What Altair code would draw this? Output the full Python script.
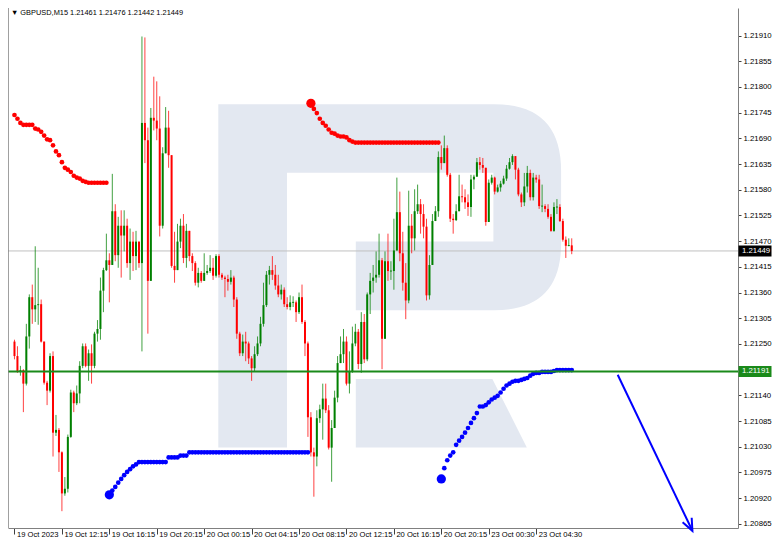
import math
import altair as alt
import pandas as pd

# ---------------- data ----------------
header = "\u25bc GBPUSD,M15  1.21461 1.21476 1.21442 1.21449"
first_open = 1.21255

closes = [
    1.21224, 1.21192, 1.21194, 1.21165, 1.21266, 1.21350, 1.21324, 1.21333, 1.21335, 1.21255,
    1.21167, 1.21150, 1.21224, 1.21060, 1.21066, 1.21018, 1.20930, 1.20940, 1.21051, 1.21146,
    1.21123, 1.21144, 1.21203, 1.21245, 1.21203, 1.21230, 1.21203, 1.21272, 1.21282, 1.21364,
    1.21408, 1.21429, 1.21419, 1.21534, 1.21440, 1.21503, 1.21482, 1.21503, 1.21423, 1.21469,
    1.21438, 1.21469, 1.21423, 1.21723, 1.21686, 1.21385, 1.21734, 1.21728, 1.21711, 1.21503,
    1.21658, 1.21713, 1.21654, 1.21417, 1.21408, 1.21469, 1.21503, 1.21434, 1.21492, 1.21438,
    1.21423, 1.21381, 1.21402, 1.21385, 1.21402, 1.21406, 1.21413, 1.21396, 1.21438, 1.21398,
    1.21392, 1.21389, 1.21383, 1.21392, 1.21345, 1.21272, 1.21230, 1.21255, 1.21251, 1.21219,
    1.21198, 1.21228, 1.21251, 1.21293, 1.21333, 1.21398, 1.21408, 1.21398, 1.21375, 1.21356,
    1.21366, 1.21335, 1.21329, 1.21339, 1.21339, 1.21318, 1.21350, 1.21297, 1.21251, 1.21093,
    1.21018, 1.21009, 1.21091, 1.21110, 1.21133, 1.21108, 1.21028, 1.21070, 1.21135, 1.21209,
    1.21228, 1.21255, 1.21165, 1.21192, 1.21251, 1.21276, 1.21207, 1.21297, 1.21217, 1.21356,
    1.21385, 1.21392, 1.21398, 1.21429, 1.21261, 1.21427, 1.21406, 1.21406, 1.21450, 1.21532,
    1.21444, 1.21381, 1.21343, 1.21503, 1.21476, 1.21534, 1.21549, 1.21528, 1.21501, 1.21354,
    1.21419, 1.21513, 1.21534, 1.21650, 1.21637, 1.21669, 1.21612, 1.21518, 1.21515, 1.21534,
    1.21566, 1.21564, 1.21553, 1.21543, 1.21602, 1.21608, 1.21639, 1.21633, 1.21627, 1.21511,
    1.21595, 1.21606, 1.21576, 1.21585, 1.21593, 1.21604, 1.21625, 1.21639, 1.21652, 1.21623,
    1.21570, 1.21553, 1.21587, 1.21616, 1.21564, 1.21606, 1.21602, 1.21545, 1.21545, 1.21539,
    1.21522, 1.21492, 1.21543, 1.21543, 1.21513, 1.21473, 1.21460, 1.21461, 1.21449,
]

highs = [
    1.21259, 1.21245, 1.21203, 1.21196, 1.21293, 1.21356, 1.21377, 1.21459, 1.21413, 1.21345,
    1.21255, 1.21171, 1.21230, 1.21234, 1.21098, 1.21070, 1.21020, 1.20965, 1.21056, 1.21152,
    1.21150, 1.21161, 1.21213, 1.21251, 1.21251, 1.21238, 1.21249, 1.21276, 1.21301, 1.21392,
    1.21413, 1.21486, 1.21444, 1.21614, 1.21549, 1.21522, 1.21536, 1.21536, 1.21518, 1.21497,
    1.21490, 1.21492, 1.21465, 1.21908, 1.21906, 1.21713, 1.21755, 1.21822, 1.21812, 1.21780,
    1.21671, 1.21757, 1.21749, 1.21652, 1.21490, 1.21507, 1.21518, 1.21528, 1.21507, 1.21490,
    1.21444, 1.21427, 1.21413, 1.21406, 1.21444, 1.21419, 1.21440, 1.21434, 1.21442, 1.21442,
    1.21402, 1.21396, 1.21398, 1.21408, 1.21396, 1.21350, 1.21276, 1.21270, 1.21276, 1.21255,
    1.21224, 1.21245, 1.21266, 1.21308, 1.21381, 1.21406, 1.21417, 1.21438, 1.21419, 1.21398,
    1.21377, 1.21371, 1.21350, 1.21354, 1.21352, 1.21343, 1.21360, 1.21377, 1.21301, 1.21255,
    1.21104, 1.21028, 1.21108, 1.21120, 1.21165, 1.21165, 1.21119, 1.21087, 1.21150, 1.21224,
    1.21266, 1.21282, 1.21266, 1.21234, 1.21287, 1.21293, 1.21282, 1.21318, 1.21314, 1.21360,
    1.21402, 1.21419, 1.21448, 1.21486, 1.21434, 1.21448, 1.21486, 1.21427, 1.21518, 1.21606,
    1.21576, 1.21490, 1.21423, 1.21578, 1.21528, 1.21581, 1.21591, 1.21560, 1.21549, 1.21518,
    1.21440, 1.21528, 1.21545, 1.21662, 1.21675, 1.21696, 1.21675, 1.21616, 1.21528, 1.21549,
    1.21612, 1.21591, 1.21581, 1.21570, 1.21612, 1.21612, 1.21648, 1.21650, 1.21648, 1.21606,
    1.21602, 1.21612, 1.21608, 1.21591, 1.21599, 1.21610, 1.21633, 1.21648, 1.21656, 1.21652,
    1.21627, 1.21574, 1.21616, 1.21631, 1.21623, 1.21616, 1.21612, 1.21612, 1.21591, 1.21549,
    1.21549, 1.21528, 1.21553, 1.21560, 1.21549, 1.21518, 1.21480, 1.21476, 1.21476,
]

lows = [
    1.21217, 1.21188, 1.21182, 1.21104, 1.21161, 1.21240, 1.21293, 1.21297, 1.21291, 1.21253,
    1.21163, 1.21119, 1.21146, 1.21009, 1.21053, 1.20976, 1.20892, 1.20925, 1.20932, 1.21049,
    1.21104, 1.21119, 1.21123, 1.21198, 1.21200, 1.21171, 1.21165, 1.21198, 1.21255, 1.21259,
    1.21318, 1.21406, 1.21339, 1.21419, 1.21427, 1.21413, 1.21392, 1.21448, 1.21413, 1.21387,
    1.21406, 1.21408, 1.21413, 1.21234, 1.21637, 1.21272, 1.21385, 1.21707, 1.21686, 1.21480,
    1.21497, 1.21658, 1.21627, 1.21413, 1.21381, 1.21413, 1.21455, 1.21423, 1.21413, 1.21427,
    1.21406, 1.21375, 1.21371, 1.21381, 1.21385, 1.21398, 1.21402, 1.21387, 1.21392, 1.21392,
    1.21387, 1.21350, 1.21364, 1.21377, 1.21329, 1.21261, 1.21224, 1.21224, 1.21213, 1.21207,
    1.21171, 1.21192, 1.21224, 1.21245, 1.21287, 1.21329, 1.21377, 1.21387, 1.21366, 1.21350,
    1.21345, 1.21329, 1.21324, 1.21322, 1.21329, 1.21297, 1.21314, 1.21293, 1.21224, 1.21051,
    1.21009, 1.20923, 1.20988, 1.21081, 1.21045, 1.21102, 1.21024, 1.20955, 1.21070, 1.21125,
    1.21213, 1.21209, 1.21161, 1.21144, 1.21188, 1.21245, 1.21196, 1.21188, 1.21209, 1.21213,
    1.21314, 1.21360, 1.21381, 1.21392, 1.21196, 1.21261, 1.21385, 1.21387, 1.21366, 1.21450,
    1.21427, 1.21364, 1.21303, 1.21337, 1.21444, 1.21450, 1.21528, 1.21486, 1.21476, 1.21343,
    1.21345, 1.21419, 1.21513, 1.21522, 1.21623, 1.21637, 1.21608, 1.21511, 1.21486, 1.21513,
    1.21534, 1.21553, 1.21539, 1.21524, 1.21522, 1.21581, 1.21608, 1.21623, 1.21616, 1.21503,
    1.21511, 1.21591, 1.21570, 1.21574, 1.21576, 1.21591, 1.21599, 1.21623, 1.21633, 1.21602,
    1.21566, 1.21543, 1.21545, 1.21574, 1.21557, 1.21557, 1.21595, 1.21539, 1.21532, 1.21532,
    1.21518, 1.21490, 1.21490, 1.21528, 1.21511, 1.21469, 1.21434, 1.21459, 1.21442,
]

# dotted trailing indicator (bar index where each run starts)
red_dots_1_start = 0
red_dots_1 = [
    1.21740, 1.21732, 1.21723, 1.21719, 1.21719, 1.21719, 1.21719, 1.21711, 1.21709, 1.21704,
    1.21696, 1.21688, 1.21686, 1.21675, 1.21662, 1.21654, 1.21639, 1.21627, 1.21623, 1.21618,
    1.21610, 1.21606, 1.21604, 1.21599, 1.21597, 1.21595, 1.21595, 1.21595, 1.21595, 1.21595,
    1.21595, 1.21595,
]
blue_dots_1_start = 32
blue_dots_1 = [
    1.20927, 1.20936, 1.20944, 1.20953, 1.20961, 1.20969, 1.20976, 1.20982, 1.20988, 1.20992,
    1.20997, 1.20997, 1.20997, 1.20997, 1.20997, 1.20997, 1.20997, 1.20997, 1.20997, 1.20997,
    1.21007, 1.21007, 1.21007, 1.21007, 1.21011, 1.21011, 1.21011, 1.21018, 1.21018, 1.21018,
    1.21018, 1.21018, 1.21018, 1.21018, 1.21018, 1.21018, 1.21018, 1.21018, 1.21018, 1.21018,
    1.21018, 1.21018, 1.21018, 1.21018, 1.21018, 1.21018, 1.21018, 1.21018, 1.21018, 1.21018,
    1.21018, 1.21018, 1.21018, 1.21018, 1.21018, 1.21018, 1.21018, 1.21018, 1.21018, 1.21018,
    1.21018, 1.21018, 1.21018, 1.21018, 1.21018, 1.21018, 1.21018, 1.21018,
]
red_dots_2_start = 100
red_dots_2 = [
    1.21765, 1.21753, 1.21744, 1.21732, 1.21723, 1.21717, 1.21709, 1.21702, 1.21700, 1.21696,
    1.21694, 1.21694, 1.21692, 1.21686, 1.21683, 1.21681, 1.21681, 1.21681, 1.21681, 1.21681,
    1.21681, 1.21681, 1.21681, 1.21681, 1.21681, 1.21681, 1.21681, 1.21681, 1.21681, 1.21681,
    1.21681, 1.21681, 1.21681, 1.21681, 1.21681, 1.21681, 1.21681, 1.21681, 1.21681, 1.21681,
    1.21681, 1.21681, 1.21681, 1.21681,
]
blue_dots_2_start = 144
blue_dots_2 = [
    1.20961, 1.20984, 1.21001, 1.21011, 1.21018, 1.21034, 1.21043, 1.21051, 1.21060, 1.21070,
    1.21081, 1.21091, 1.21102, 1.21116, 1.21116, 1.21119, 1.21125, 1.21131, 1.21135, 1.21139,
    1.21146, 1.21154, 1.21161, 1.21165, 1.21169, 1.21171, 1.21171, 1.21173, 1.21175, 1.21177,
    1.21182, 1.21186, 1.21188, 1.21188, 1.21190, 1.21190, 1.21190, 1.21190, 1.21192, 1.21194,
    1.21194, 1.21194, 1.21194, 1.21194, 1.21194,
]

price_ticks = [
    1.21910, 1.21855, 1.21800, 1.21745, 1.21690, 1.21635, 1.21580, 1.21525, 1.21470, 1.21415,
    1.21360, 1.21305, 1.21250, 1.21140, 1.21085, 1.21030, 1.20975, 1.20920, 1.20865,
]
time_labels = [
    "19 Oct 2023", "19 Oct 12:15", "19 Oct 16:15", "19 Oct 20:15", "20 Oct 00:15",
    "20 Oct 04:15", "20 Oct 08:15", "20 Oct 12:15", "20 Oct 16:15", "20 Oct 20:15",
    "23 Oct 00:30", "23 Oct 04:30",
]
bars_per_label = 16

current_price = 1.21449
level_price = 1.21191
arrow_bars = [203.5, 228.7]
arrow_prices = [1.21184, 1.20850]

# ---------------- layout / styles ----------------
W, H = 730, 520
X_DOMAIN = [-0.5, 242.4]
Y_DOMAIN = [1.20856, 1.21969]
UP, DOWN = "#008000", "#FF0000"
FONT = "Liberation Sans"
SX = W / 743.0   # reference-pixel to plot-pixel factors (decorative logo only)
SY = H / 530.0

xs = alt.Scale(domain=X_DOMAIN, nice=False, zero=False)
ys = alt.Scale(domain=Y_DOMAIN, nice=False, zero=False)

# candles table
opens = [first_open] + closes[:-1]
rows = []
for i, (o, h, l, c) in enumerate(zip(opens, highs, lows, closes)):
    h = max(h, o, c)
    l = min(l, o, c)
    top, bot = max(o, c), min(o, c)
    if top - bot < 0.00002:
        mid = (top + bot) / 2
        top, bot = mid + 0.00001, mid - 0.00001
    rows.append(dict(i=i, o=o, h=h, l=l, c=c, top=top, bot=bot,
                     col=UP if c >= o else DOWN))
cdf = pd.DataFrame(rows)

# dots table
dot_rows = []
for start, series, color in [
    (red_dots_1_start, red_dots_1, "#FF0000"),
    (blue_dots_1_start, blue_dots_1, "#0000FF"),
    (red_dots_2_start, red_dots_2, "#FF0000"),
    (blue_dots_2_start, blue_dots_2, "#0000FF"),
]:
    for k, v in enumerate(series):
        big = (k == 0 and start != 0)
        dot_rows.append(dict(i=start + k, p=v, col=color, sz=85 if big else 22))
ddf = pd.DataFrame(dot_rows)

one = pd.DataFrame({"t": [header]})

label_js = "[" + ",".join("'%s'" % t for t in time_labels) + "]"
xaxis = alt.Axis(
    values=[k * bars_per_label for k in range(len(time_labels))],
    labelExpr=label_js + "[round(datum.value/%d)]" % bars_per_label,
    orient="bottom", grid=False, title=None,
    domainColor="#808080", tickColor="#404040", tickSize=6,
    labelAlign="left", labelBaseline="top", labelPadding=-4, labelOffset=2,
    labelFontSize=7.6, labelFont=FONT, labelColor="#000000",
    labelOverlap=False, labelFlush=False, labelBound=False,
)
yaxis = alt.Axis(
    values=price_ticks, format=".5f", orient="right", grid=False, title=None,
    domainColor="#808080", tickColor="#404040", tickSize=3, labelPadding=2,
    labelFontSize=7.8, labelFont=FONT, labelColor="#000000",
    labelOverlap=False, labelFlush=False, labelBound=False,
)

X = lambda f: alt.X(f, scale=xs, axis=xaxis)
Y = lambda f: alt.Y(f, scale=ys, axis=yaxis)

# watermark logo (decorative background drawn as one path)
def P(x, y):
    return "%.1f,%.1f" % ((x - 2) * SX, y * SY)
LOGO = (
    "M" + P(216, 98) + " L" + P(497, 98) + " Q" + P(565, 98) + " " + P(565, 166)
    + " L" + P(565, 240) + " Q" + P(565, 308) + " " + P(497, 308)
    + " L" + P(356, 308) + " L" + P(356, 238) + " L" + P(496, 238)
    + " L" + P(496, 168) + " L" + P(286, 168) + " L" + P(286, 448)
    + " L" + P(216, 448) + " Z"
    + " M" + P(356, 378) + " L" + P(495, 378) + " L" + P(530, 448)
    + " L" + P(356, 448) + " Z"
)
watermark = alt.Chart(one).mark_point(
    shape=LOGO, size=4, filled=True, color="#E3E8F1", opacity=1, strokeWidth=0
).encode(x=alt.value(0), y=alt.value(0))

price_line = alt.Chart(pd.DataFrame({"p": [current_price]})).mark_rule(
    color="#C0C0C0", strokeWidth=1
).encode(y=Y("p:Q"))

level_line = alt.Chart(pd.DataFrame({"p": [level_price]})).mark_rule(
    color="#1A8A1A", strokeWidth=2
).encode(y=Y("p:Q"))

dots = alt.Chart(ddf).mark_circle(opacity=1).encode(
    x=X("i:Q"), y=Y("p:Q"),
    color=alt.Color("col:N", scale=None),
    size=alt.Size("sz:Q", scale=None),
)

wicks = alt.Chart(cdf).mark_rule(strokeWidth=1, opacity=0.75).encode(
    x=X("i:Q"), y=Y("l:Q"), y2="h:Q",
    color=alt.Color("col:N", scale=None),
)

bodies = alt.Chart(cdf).mark_bar(size=2).encode(
    x=X("i:Q"), y=Y("top:Q"), y2="bot:Q",
    color=alt.Color("col:N", scale=None),
)

adf = pd.DataFrame({"x": arrow_bars, "p": arrow_prices})
arrow_line = alt.Chart(adf).mark_line(color="#0000FF", strokeWidth=2).encode(
    x=X("x:Q"), y=Y("p:Q"),
)
dx_px = (arrow_bars[1] - arrow_bars[0]) * W / (X_DOMAIN[1] - X_DOMAIN[0])
dy_px = (arrow_prices[0] - arrow_prices[1]) * H / (Y_DOMAIN[1] - Y_DOMAIN[0])
head_angle = (-math.degrees(math.atan2(dx_px, dy_px))) % 360
arrow_head = alt.Chart(adf.tail(1)).mark_point(
    shape="M-0.42,-1 L0,0 L0.42,-1", size=4 * 12 * 12, angle=head_angle,
    filled=False, color="#0000FF", strokeWidth=2, opacity=1,
).encode(x=X("x:Q"), y=Y("p:Q"))

title_text = alt.Chart(one).mark_text(
    align="left", baseline="top", font=FONT, fontSize=7.4, color="#000000"
).encode(x=alt.value(3), y=alt.value(1), text="t:N")

bdf = pd.DataFrame({
    "p": [current_price, level_price],
    "lab": ["%.5f" % current_price, "%.5f" % level_price],
    "col": ["#000000", "#1A8A1A"],
})
boxes = alt.Chart(bdf).mark_point(
    shape="M-1.5,-0.5 L1.5,-0.5 L1.5,0.5 L-1.5,0.5 Z", size=484,
    filled=True, opacity=1, strokeWidth=0,
).encode(
    x=alt.value(W + 17), y=Y("p:Q"),
    color=alt.Color("col:N", scale=None),
)
box_text = alt.Chart(bdf).mark_text(
    align="left", baseline="middle", font=FONT, fontSize=7.8, color="#FFFFFF"
).encode(x=alt.value(W + 4), y=Y("p:Q"), text="lab:N")

left_border = alt.Chart(one).mark_rule(color="#808080", strokeWidth=1.5).encode(
    x=alt.value(0), y=alt.value(0), y2=alt.value(H)
)

chart = alt.layer(
    watermark, price_line, dots, wicks, bodies, level_line,
    arrow_line, arrow_head, title_text, boxes, box_text, left_border,
).properties(
    width=W, height=H,
    autosize=alt.AutoSizeParams(type="none"),
    padding={"left": 0, "top": 0, "right": 36, "bottom": 10},
    background="#FFFFFF",
).configure_view(strokeWidth=0)

chart.save("out.html", embed_options={"renderer": "svg", "actions": False})
